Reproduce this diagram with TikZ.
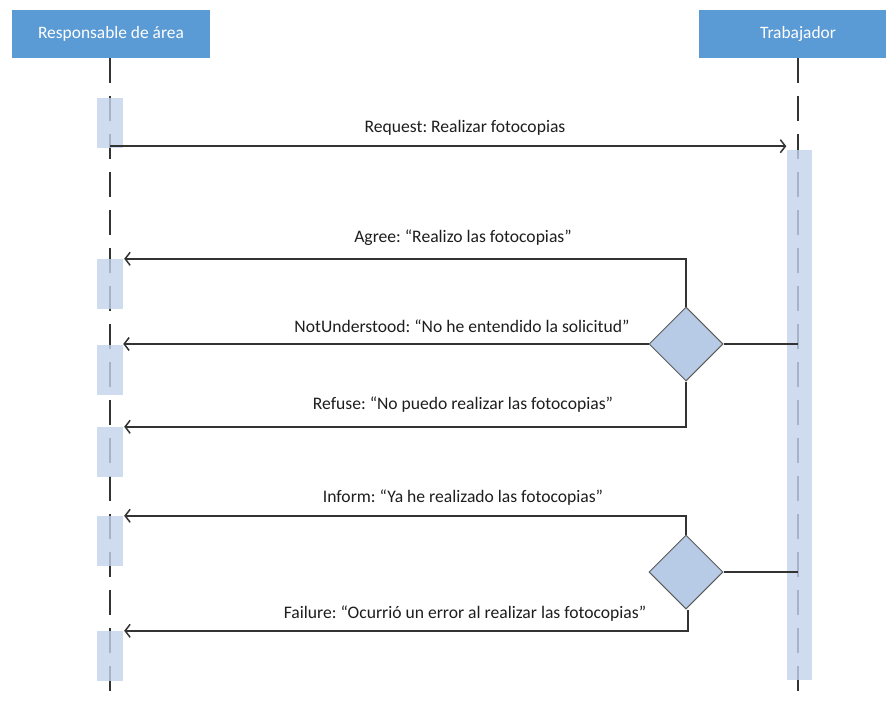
\documentclass[tikz,border=0pt]{standalone}
\usepackage{fontspec}
\setmainfont{Carlito}
\usetikzlibrary{arrows.meta,shapes.geometric,calc}
\definecolor{headblue}{HTML}{5B9BD5}
\definecolor{actblue}{HTML}{C3D4EC}
\definecolor{diamblue}{HTML}{B7CBE6}
\definecolor{linegray}{HTML}{333333}
\definecolor{textgray}{HTML}{1E1E1E}
\frenchspacing
\tikzset{
  header/.style={fill=headblue, draw=none, minimum width=198pt, minimum height=48pt,
    text=white, font=\fontsize{17.4}{20}\selectfont, inner sep=0pt},
  lifeline/.style={draw=linegray, line width=1.6pt, dash pattern=on 25pt off 13pt},
  activation/.style={fill=actblue, fill opacity=0.8, draw=none, minimum width=26pt,
    minimum height=50pt, inner sep=0pt},
  longbar/.style={fill=actblue, fill opacity=0.8, draw=none, inner sep=0pt},
  choice/.style={diamond, aspect=1, fill=diamblue, draw=linegray!80, line width=1pt,
    minimum size=74pt, inner sep=0pt},
  msg/.style={draw=linegray, line width=1.5pt, -{Straight Barb[length=5pt,width=13pt]}},
  link/.style={draw=linegray, line width=1.5pt},
  label/.style={text=textgray, font=\fontsize{17.6}{20}\selectfont, inner sep=0pt}
}
\begin{document}
\begin{tikzpicture}[x=1pt,y=-1pt]
\useasboundingbox (0,0) rectangle (886,702);
\fill[white] (0,0) rectangle (886,702);

% participants
\node[header] (L) at (111,34) {Responsable de área};
\begin{scope}
  \clip (0,0) rectangle (886,702);
  \node[header] (R) at (798,34) {Trabajador};
\end{scope}

% lifelines
\coordinate (Lend) at (110,702);
\coordinate (Rend) at (798,696);
\draw[lifeline] (L.south -| Lend) -- (Lend);
\draw[lifeline] (R.south) -- (Rend);

% activation boxes
\node[activation] (a0) at (110,123) {};
\node[activation] (a1) at (110,284) {};
\node[activation] (a2) at (110,370) {};
\node[activation] (a3) at (110,452) {};
\node[activation] (a4) at (110,541) {};
\node[activation] (a5) at (110,656) {};
\node[longbar, minimum width=25pt, minimum height=530pt] (b) at (799,415) {};

% decisions
\node[choice] (d1) at (686,344) {};
\node[choice] (d2) at (686,572) {};

% messages
\draw[msg] ([yshift=2pt]a0.south) -- ([yshift=2pt]a0.south -| b.west);
\draw[msg] (d1.north) |- ([xshift=1pt]a1.north east);
\draw[msg] (d1.west) -- (d1.west -| a2.east);
\draw[msg] (d1.south) |- ([xshift=1pt]a3.north east);
\draw[msg] (d2.north) |- ([xshift=1pt]a4.north east);
\draw[msg] ([xshift=2pt]d2.south) |- ([xshift=1pt]a5.north east);
\draw[link] (d1.east) -- (d1.east -| Rend);
\draw[link] (d2.east) -- (d2.east -| Rend);

% labels
\node[label] (t0) at (465,128) {Request: Realizar fotocopias};
\node[label] (t1) at (463,238) {Agree: “Realizo las fotocopias”};
\node[label] (t2) at (462,326) {NotUnderstood: “No he entendido la solicitud”};
\node[label] (t3) at (463,405) {Refuse: “No puedo realizar las fotocopias”};
\node[label] (t4) at (463,498) {Inform: “Ya he realizado las fotocopias”};
\node[label] (t5) at (465,614) {Failure: “Ocurrió un error al realizar las fotocopias”};
\end{tikzpicture}
\end{document}
